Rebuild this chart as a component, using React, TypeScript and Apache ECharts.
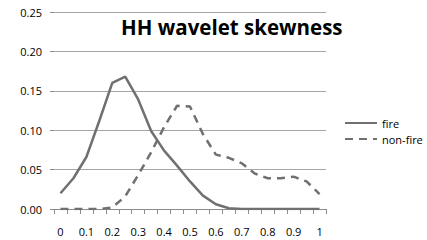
import React, { useEffect, useRef } from "react";
import * as echarts from "echarts";

const categories = ["0", "0.05", "0.1", "0.15", "0.2", "0.25", "0.3", "0.35", "0.4", "0.45", "0.5", "0.55", "0.6", "0.65", "0.7", "0.75", "0.8", "0.85", "0.9", "0.95", "1"];
const fire = [0.02, 0.039, 0.066, 0.112, 0.16, 0.168, 0.139, 0.099, 0.074, 0.055, 0.035, 0.017, 0.006, 0.001, 0, 0, 0, 0, 0, 0, 0];
const nonFire = [0, 0, 0, 0, 0.002, 0.016, 0.043, 0.072, 0.104, 0.131, 0.13, 0.095, 0.069, 0.065, 0.058, 0.045, 0.039, 0.039, 0.041, 0.035, 0.019];
const seriesNames = ["fire", "non-fire"];
const titleText = "HH wavelet skewness";

export default function App() {
  const ref = useRef<HTMLDivElement>(null);
  useEffect(() => {
    if (!ref.current) return;
    const chart = echarts.init(ref.current, null, { renderer: "svg" });
    const font = "Open Sans";
    const gray = "#707070";
    chart.setOption({
      animation: false,
      backgroundColor: "#ffffff",
      textStyle: { fontFamily: font },
      title: {
        text: titleText,
        left: 121,
        top: 16,
        padding: 0,
        textStyle: { fontFamily: font, fontSize: 20.5, fontWeight: "bold", color: "#000" },
      },
      legend: {
        orient: "vertical",
        left: 344,
        top: 117,
        itemWidth: 32,
        itemHeight: 12,
        itemGap: 4,
        padding: 0,
        itemStyle: { opacity: 0 },
        textStyle: { fontFamily: font, fontSize: 11, color: "#000", lineHeight: 12 },
        data: seriesNames,
      },
      grid: { left: 54, right: 101, top: 12, bottom: 31, containLabel: false },
      xAxis: {
        type: "category",
        data: categories,
        boundaryGap: true,
        axisLine: { show: true, lineStyle: { color: "#8c8c8c", width: 1 } },
        axisTick: { show: true, interval: 0, length: 5, lineStyle: { color: "#8c8c8c" } },
        axisLabel: {
          interval: 1,
          margin: 17,
          fontFamily: font,
          fontSize: 11,
          color: "#000",
        },
      },
      yAxis: {
        type: "value",
        min: 0,
        max: 0.25,
        interval: 0.05,
        axisLine: { show: false },
        axisTick: { show: true, length: 4, lineStyle: { color: "#8c8c8c" } },
        splitLine: { show: true, lineStyle: { color: "#a6a6a6", width: 1 } },
        axisLabel: {
          margin: 12,
          fontFamily: font,
          fontSize: 11,
          color: "#000",
          formatter: (v: number) => v.toFixed(2),
        },
      },
      series: [
        {
          name: seriesNames[0],
          type: "line",
          data: fire,
          symbol: "none",
          lineStyle: { color: gray, width: 2.5 },
          itemStyle: { color: gray },
        },
        {
          name: seriesNames[1],
          type: "line",
          data: nonFire,
          symbol: "none",
          lineStyle: { color: gray, width: 2.5, type: [8, 6] },
          itemStyle: { color: gray },
        },
      ],
    });
    return () => chart.dispose();
  }, []);
  return <div ref={ref} style={{ width: 427, height: 240, position: "fixed", left: 0, top: 0 }} />;
}
